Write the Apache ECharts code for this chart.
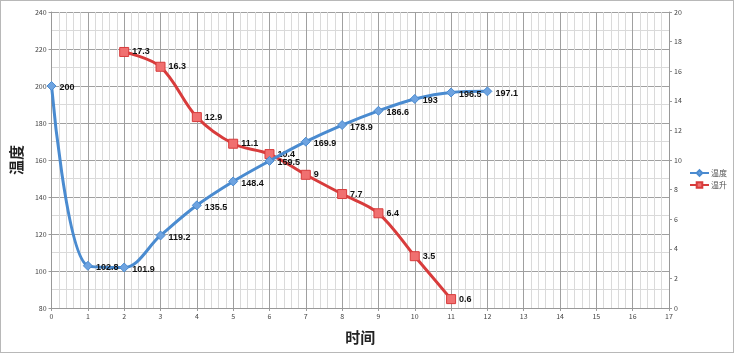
<!DOCTYPE html>
<html><head><meta charset="utf-8">
<script src="https://cdn.jsdelivr.net/npm/echarts@6/dist/echarts.min.js"></script>
<style>html,body{margin:0;padding:0;background:#fff;}#c{width:732px;height:351px;border:1px solid #b8b8b8;}</style>
</head><body><div id="c"></div>
<script>
var tempX = [0,1,2,3,4,5,6,7,8,9,10,11,12];
var tempY = [200,102.8,101.9,119.2,135.5,148.4,159.5,169.9,178.9,186.6,193,196.5,197.1];
var riseX = [2,3,4,5,6,7,8,9,10,11];
var riseY = [17.3,16.3,12.9,11.1,10.4,9,7.7,6.4,3.5,0.6];
var xTitle = '时间', yTitle = '温度';
var tempName = '温度', riseName = '温升';

var chart = echarts.init(document.getElementById('c'));
var font = "'Noto Sans CJK SC', 'Liberation Sans', sans-serif";
chart.setOption({
  animation:false,
  textStyle:{fontFamily:font},
  grid:{left:49,right:64,top:11,bottom:44},
  legend:{orient:'vertical',left:683,top:163,itemGap:4,itemWidth:19,itemHeight:7,
    textStyle:{fontSize:8,color:'#555',fontFamily:font,padding:[0,0,0,-3]},
    data:[tempName,riseName]},
  xAxis:{type:'value',min:0,max:17,interval:1,
    name:xTitle,nameLocation:'middle',nameGap:22,
    nameTextStyle:{fontSize:15,fontWeight:'bold',color:'#222',fontFamily:font},
    axisLine:{onZero:false,lineStyle:{color:'#999'}},
    axisTick:{show:true,length:3,lineStyle:{color:'#999'}},
    axisLabel:{fontSize:7,color:'#444',margin:5},
    splitLine:{show:true,lineStyle:{color:'#a0a0a0',width:1}},
    minorTick:{show:false,splitNumber:5},
    minorSplitLine:{show:true,lineStyle:{color:'#dadada',width:1}}},
  yAxis:[{type:'value',min:80,max:240,interval:20,
    name:yTitle,nameLocation:'middle',nameGap:26,nameRotate:90,
    nameTextStyle:{fontSize:15,fontWeight:'bold',color:'#222',fontFamily:font},
    axisLine:{show:true,lineStyle:{color:'#999'}},
    axisTick:{show:true,length:3,lineStyle:{color:'#999'}},
    axisLabel:{fontSize:7,color:'#444',margin:5},
    splitLine:{show:true,lineStyle:{color:'#a0a0a0',width:1}},
    minorTick:{show:false,splitNumber:2},
    minorSplitLine:{show:true,lineStyle:{color:'#dadada',width:1}}},
   {type:'value',min:0,max:20,interval:2,position:'right',
    axisLine:{show:true,lineStyle:{color:'#999'}},
    axisTick:{show:true,length:3,lineStyle:{color:'#999'}},
    axisLabel:{fontSize:7,color:'#444',margin:5},
    splitLine:{show:false}}],
  series:[
   {name:tempName,type:'line',smooth:0.35,yAxisIndex:0,
    data:tempX.map(function(x,i){return [x,tempY[i]];}),
    symbol:'diamond',symbolSize:9,
    lineStyle:{color:'#4a8bd0',width:3},
    itemStyle:{color:'#6ea3e0',borderColor:'#4a8bd0',borderWidth:1},
    label:{show:true,position:'right',offset:[-2,2],fontSize:9,fontWeight:'bold',color:'#111',fontFamily:"'Liberation Sans', sans-serif"},
    z:3},
   {name:riseName,type:'line',smooth:0.35,yAxisIndex:1,
    data:riseX.map(function(x,i){return [x,riseY[i]];}),
    symbol:'rect',symbolSize:9,
    lineStyle:{color:'#d83c3c',width:3},
    itemStyle:{color:'#f07070',borderColor:'#d83c3c',borderWidth:1},
    label:{show:true,position:'right',offset:[-2,0],fontSize:9,fontWeight:'bold',color:'#111',fontFamily:"'Liberation Sans', sans-serif"},
    z:2}
  ]
});
</script></body></html>
